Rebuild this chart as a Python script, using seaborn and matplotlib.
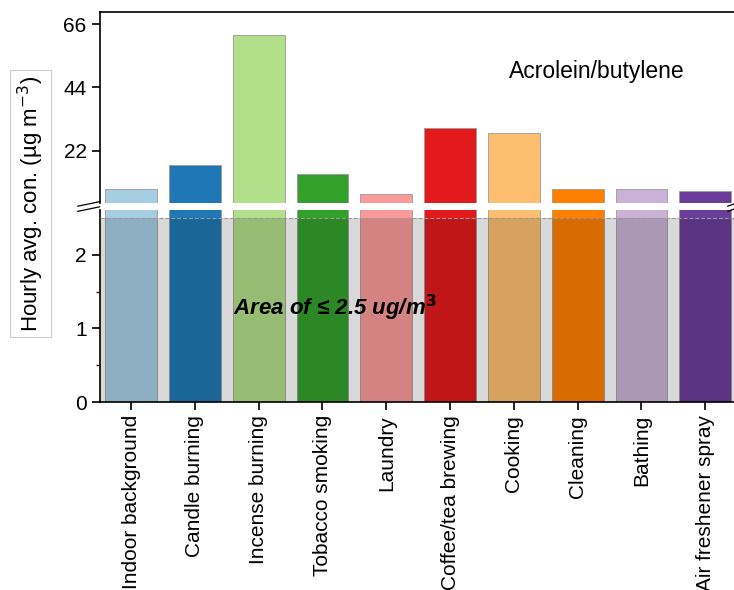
import numpy as np
import pandas as pd
import matplotlib
matplotlib.use("Agg")
import matplotlib.pyplot as plt
import seaborn as sns

sns.set_style("ticks")
plt.rcParams['font.family'] = ['Liberation Sans', 'DejaVu Sans']
plt.rcParams['text.color'] = 'black'

# ---- data ----
categories = ["Indoor background", "Candle burning", "Incense burning", "Tobacco smoking",
              "Laundry", "Coffee/tea brewing", "Cooking", "Cleaning", "Bathing",
              "Air freshener spray"]
values = [8.8, 17.1, 62.2, 14.0, 6.8, 30.0, 28.2, 8.8, 8.8, 7.8]
colors = ["#a6cee3", "#1f78b4", "#b2df8a", "#33a02c", "#fb9a99",
          "#e31a1c", "#fdbf6f", "#ff7f00", "#cab2d6", "#6a3d9a"]
upper_ticks = [22, 44, 66]
lower_ticks = [0, 1, 2]
threshold = 2.5

df = pd.DataFrame({"source": categories, "conc": values})
palette = dict(zip(categories, colors))

fig = plt.figure(figsize=(7.34, 5.90), dpi=100)
left, width = 0.136, 0.864
ax_up = fig.add_axes([left, 0.656, width, 0.324])
ax_lo = fig.add_axes([left, 0.3186, width, 0.3254])

for ax in (ax_up, ax_lo):
    sns.barplot(data=df, x="source", y="conc", hue="source", palette=palette,
                width=0.81, edgecolor="#9a9a9a", linewidth=0.6, saturation=1,
                legend=False, ax=ax)
    ax.set_xlim(-0.49, 9.45)
    ax.set_xlabel("")
    ax.set_ylabel("")
    ax.spines["right"].set_visible(False)
    for s in ax.spines.values():
        s.set_linewidth(1.2)
        s.set_color("black")
    ax.tick_params(axis="both", direction="out", length=6, width=1.2,
                   labelsize=15, colors="black")

# upper part
ax_up.set_ylim(3.8, 70.3)
ax_up.set_yticks(upper_ticks)
ax_up.spines["bottom"].set_visible(False)
ax_up.tick_params(axis="x", bottom=False, labelbottom=False)
ax_up.text(7.3, 49.5, "Acrolein/butylene", ha="center", va="center", fontsize=16.5)

# lower part
ax_lo.set_ylim(0, 2.61)
ax_lo.set_yticks(lower_ticks)
ax_lo.set_yticks([0.5, 1.5], minor=True)
ax_lo.tick_params(axis="y", which="minor", length=3, width=1.0)
ax_lo.spines["top"].set_visible(False)
ax_lo.set_xticks(range(len(categories)))
ax_lo.set_xticklabels(categories, rotation=90, fontsize=15)

# shaded region <= 2.5
ax_lo.axhspan(0, threshold, color="black", alpha=0.15, lw=0, zorder=5)
ax_lo.axhline(threshold, color="#9a9a9a", ls="--", lw=0.8, zorder=6)
ax_lo.text(3.2, 1.28, "Area of \u2264 2.5 ug/m$^{\\mathbf{3}}$", ha="center", va="center",
           fontsize=16, fontweight="bold", fontstyle="italic", zorder=7)

# break marks
d = 0.012
kw = dict(color="black", lw=0.9, clip_on=False)
ax_up.plot([-0.035, 0.0], [-0.005 - d, -0.005 + d], transform=ax_up.transAxes, **kw)
ax_lo.plot([-0.035, 0.0], [1.005 - d, 1.005 + d], transform=ax_lo.transAxes, **kw)
ax_up.plot([0.99, 1.01], [-0.005 - d, -0.005 + d], transform=ax_up.transAxes, **kw)
ax_lo.plot([0.99, 1.01], [1.005 - d, 1.005 + d], transform=ax_lo.transAxes, **kw)

# y label with box
fig.text(0.042, 0.655, "Hourly avg. con. (\u00b5g m$^{-3}$)", rotation=90,
         ha="center", va="center", fontsize=16,
         bbox=dict(boxstyle="square,pad=0.25", fc="none", ec="#cccccc", lw=0.8))

fig.savefig("out.png", dpi=100)
